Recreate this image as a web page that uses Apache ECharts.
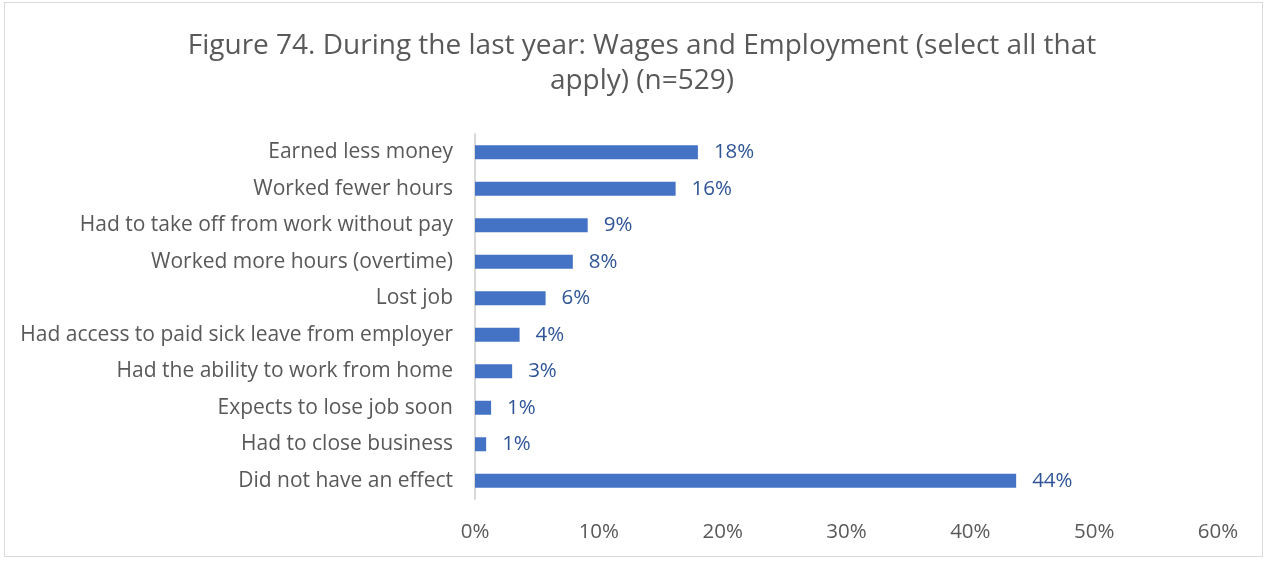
<!DOCTYPE html>
<html><head><meta charset="utf-8">
<script src="https://cdn.jsdelivr.net/npm/echarts@6/dist/echarts.min.js"></script>
<style>
html,body{margin:0;padding:0;background:#fff;}
#frame{position:absolute;left:4px;top:2px;width:1259px;height:555px;border:1px solid #D9D9D9;box-sizing:border-box;}
#c{position:absolute;left:0;top:0;width:1268px;height:561px;}
</style></head>
<body>
<div id="frame"></div>
<div id="c"></div>
<script>
const titleText = "Figure 74. During the last year: Wages and Employment (select all that\napply) (n=529)";
const categories = [
  "Earned less money",
  "Worked fewer hours",
  "Had to take off from work without pay",
  "Worked more hours (overtime)",
  "Lost job",
  "Had access to paid sick leave from employer",
  "Had the ability to work from home",
  "Expects to lose job soon",
  "Had to close business",
  "Did not have an effect"
];
const values = [18.0, 16.2, 9.1, 7.9, 5.7, 3.6, 3.0, 1.3, 0.9, 43.7];
const xTicks = [0, 10, 20, 30, 40, 50, 60];

const FONT = "'Open Sans', sans-serif";
const chart = echarts.init(document.getElementById('c'), null, {renderer:'canvas'});
chart.setOption({
  animation:false,
  title:{
    text:titleText, left:637, top:24, textAlign:'center',
    textStyle:{fontFamily:FONT, fontSize:28, fontWeight:'normal', color:'#595959', lineHeight:35}
  },
  grid:{left:475, right:50, top:134, bottom:62, containLabel:false},
  xAxis:{
    type:'value', min:xTicks[0], max:xTicks[xTicks.length-1], interval:10,
    axisLine:{show:false}, axisTick:{show:false}, splitLine:{show:false},
    axisLabel:{formatter:v=>v+'%', fontFamily:FONT, fontSize:20.5, color:'#595959', margin:23}
  },
  yAxis:{
    type:'category', data:categories, inverse:true,
    axisLine:{show:true, lineStyle:{color:'#D9D9D9', width:2}}, axisTick:{show:false},
    axisLabel:{fontFamily:FONT, fontSize:21, color:'#595959', margin:22}
  },
  series:[{
    type:'bar', data:values, barWidth:14,
    itemStyle:{color:'#4472C4'},
    label:{show:true, position:'right', distance:16, formatter:p=>Math.round(p.value)+'%',
      fontFamily:FONT, fontSize:20.5, color:'#2F5597'}
  }]
});
</script>
</body></html>
